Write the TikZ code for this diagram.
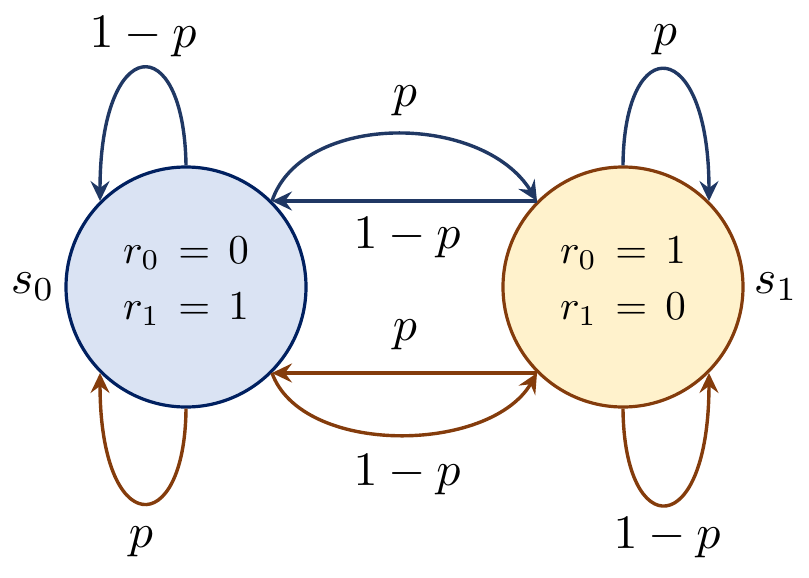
\documentclass[tikz,border=0pt]{standalone}
\usetikzlibrary{arrows.meta}
\definecolor{nblue}{HTML}{002060}
\definecolor{ablue}{HTML}{203864}
\definecolor{abrown}{HTML}{843C0C}
\definecolor{fblue}{HTML}{DAE3F3}
\definecolor{fyell}{HTML}{FFF2CC}
\tikzset{
  state/.style={circle, minimum size=240pt, inner sep=0pt, line width=3.2pt},
  lab/.style={inner sep=0pt, scale=4.8},
  stxt/.style={inner sep=0pt, anchor=base, scale=4.1},
  tip/.style={-{Stealth[length=20pt,width=19pt,inset=7pt]}},
  bluearr/.style={tip, draw=ablue, line width=3.4pt},
  brownarr/.style={tip, draw=abrown, line width=3.4pt},
}
\begin{document}
\begin{tikzpicture}[x=1pt,y=-1pt]
\useasboundingbox (0,0) rectangle (809,578);
\node[state, draw=nblue, fill=fblue] (s0) at (186,287) {};
\node[state, draw=abrown, fill=fyell] (s1) at (623,287) {};
\node[stxt] (t00) at (186,263) {$r_0\,=\,0$};
\node[stxt] (t01) at (186,319) {$r_1\,=\,1$};
\node[stxt] (t10) at (623,263) {$r_0\,=\,1$};
\node[stxt] (t11) at (623,319) {$r_1\,=\,0$};
\node[lab] (n0) at (33,287) {$s_0$};
\node[lab] (n1) at (776,287) {$s_1$};
% self loops
\draw[bluearr] (s0.90) .. controls +(-2,-138) and +(0,-168) .. (s0.135);
\draw[bluearr] (s1.90) .. controls +(1,-136) and +(0,-166) .. (s1.45);
\draw[brownarr] (s0.270) .. controls +(-1,132) and +(0,167) .. (s0.225);
\draw[brownarr] (s1.270) .. controls +(1,134) and +(0,169) .. (s1.315);
% between states
\draw[bluearr] (s0.45) .. controls (302,112) and (482,112) .. (s1.135);
\draw[bluearr] (s1.135) -- (s0.45);
\draw[brownarr] (s1.225) -- (s0.315);
\draw[brownarr] (s0.315) .. controls (302,456) and (490,454) .. (s1.225);
% labels
\node[lab] (lTL) at (143,37) {$1-p$};
\node[lab] (lTR) at (665,40) {$p$};
\node[lab] (lMT) at (405,101) {$p$};
\node[lab] (lMT2) at (407,238) {$1-p$};
\node[lab] (lMB) at (405,335) {$p$};
\node[lab] (lMB2) at (407,475) {$1-p$};
\node[lab] (lBL) at (141,542) {$p$};
\node[lab] (lBR) at (667,538) {$1-p$};
\end{tikzpicture}
\end{document}
